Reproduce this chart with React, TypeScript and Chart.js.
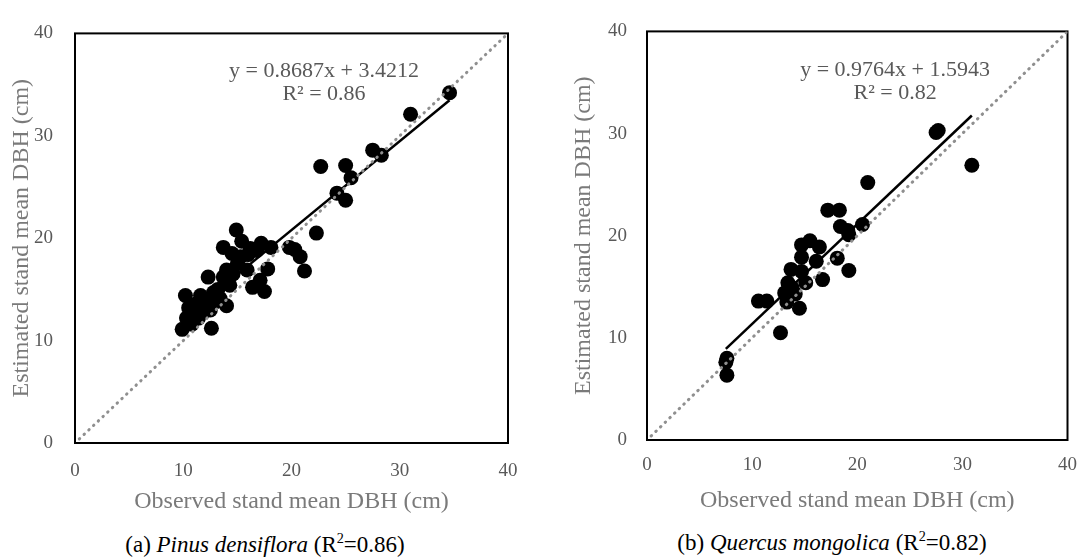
import React, { useEffect, useRef } from "react";
import { Chart, registerables } from "chart.js";

Chart.register(...registerables);

// ---------- data ----------
const pinusObserved = [
  9.9, 10.2, 10.3, 10.5, 10.8, 10.8, 11.0, 11.2, 11.4, 11.6, 11.8, 11.9, 12.2, 12.3, 12.5,
  12.6, 12.8, 13.0, 13.2, 13.4, 13.7, 14.0, 14.0, 14.3, 14.6, 13.7, 14.5, 14.9, 15.0, 15.3,
  15.4, 15.9, 16.0, 16.2, 16.4, 16.8, 17.1, 17.2, 17.5, 17.8, 18.1, 19.8, 20.3, 20.8, 21.2,
  22.3, 22.7, 24.2, 25.0, 25.0, 25.5, 27.5, 28.3, 31.0, 34.6,
];
const pinusEstimated = [
  11.1, 14.4, 12.2, 13.2, 12.8, 11.6, 12.5, 13.6, 12.2, 14.4, 13.5, 12.8, 14.0, 16.2, 13.0,
  11.2, 14.7, 13.8, 15.0, 14.1, 16.2, 13.4, 16.9, 15.4, 16.5, 19.1, 18.5, 20.8, 17.5, 18.2,
  19.7, 16.9, 18.4, 19.0, 15.2, 18.8, 15.9, 19.5, 14.8, 17.0, 19.1, 19.1, 18.9, 18.2, 16.8,
  20.5, 27.0, 24.4, 23.7, 27.1, 25.9, 28.6, 28.1, 32.1, 34.2,
];
const quercusObserved = [
  7.5, 7.6, 7.6, 10.6, 11.4, 12.7, 13.3, 13.1, 14.1, 14.5, 13.4, 13.8, 15.1, 13.7, 14.7,
  16.7, 14.7, 16.1, 14.7, 15.5, 16.4, 17.2, 18.3, 18.1, 19.2, 18.4, 19.1, 19.2, 20.5, 21.0,
  27.5, 27.7, 30.9,
];
const quercusEstimated = [
  7.6, 8.0, 6.35, 13.6, 13.6, 10.5, 13.5, 14.4, 14.3, 12.9, 15.4, 14.9, 15.4, 16.7, 16.5,
  15.7, 17.9, 17.5, 19.1, 19.5, 18.9, 22.5, 22.5, 17.8, 16.6, 20.9, 20.5, 20.1, 21.1, 25.2,
  30.1, 30.3, 26.9,
];

const pinusSlope = 0.8687;
const pinusIntercept = 3.4212;
const pinusR2 = "0.86";
const quercusSlope = 0.9764;
const quercusIntercept = 1.5943;
const quercusR2 = "0.82";

const axisTicks = [0, 10, 20, 30, 40];
const oneToOne = [0.4, 40];
const xTitleText = "Observed stand mean DBH (cm)";
const yTitleText = "Estimated stand mean DBH (cm)";

// ---------- helpers ----------
const SERIF = '"Liberation Serif", "Times New Roman", serif';

const boxPlugin = {
  id: "plotBox",
  beforeDatasetsDraw(chart: any) {
    const { ctx, chartArea: a } = chart;
    ctx.save();
    ctx.strokeStyle = "#000";
    ctx.lineWidth = 2;
    ctx.strokeRect(a.left, a.top, a.right - a.left, a.bottom - a.top);
    ctx.restore();
  },
};

const eqPlugin = {
  id: "eqLabel",
  afterDatasetsDraw(chart: any, _args: any, opts: any) {
    if (!opts || !opts.lines) return;
    const { ctx } = chart;
    const xs = chart.scales.x;
    const ys = chart.scales.y;
    ctx.save();
    ctx.fillStyle = "#595959";
    ctx.font = `22px ${SERIF}`;
    ctx.textAlign = "center";
    ctx.textBaseline = "middle";
    for (const l of opts.lines) {
      ctx.fillText(l.text, xs.getPixelForValue(l.x), ys.getPixelForValue(l.y));
    }
    ctx.restore();
  },
};

type Cfg = {
  obs: number[];
  est: number[];
  slope: number;
  intercept: number;
  r2: string;
  eqX: number;
  eqY: number;
  r2Y: number;
  padRight: number;
  padTop: number;
  yAxisWidth: number;
  xAxisHeight: number;
  yTitlePad: number;
  yTickPad: number;
  xTickPad: number;
  xTitlePad: number;
};

function makeConfig(c: Cfg): any {
  const pts = c.obs.map((x, i) => ({ x, y: c.est[i] }));
  const xmin = Math.min(...c.obs);
  const xmax = Math.max(...c.obs);
  const fit = [xmin, xmax].map((x) => ({ x, y: c.slope * x + c.intercept }));
  const diag = oneToOne.map((v) => ({ x: v, y: v }));
  const sign = c.intercept >= 0 ? "+" : "−";
  return {
    type: "scatter",
    data: {
      datasets: [
        {
          label: "1:1",
          data: diag,
          showLine: true,
          borderColor: "#8f8f8f",
          borderWidth: 3,
          borderDash: [0.5, 6],
          borderCapStyle: "round",
          pointRadius: 0,
          order: 1,
        },
        {
          label: "fit",
          data: fit,
          showLine: true,
          borderColor: "#000",
          borderWidth: 2.5,
          pointRadius: 0,
          order: 2,
        },
        {
          label: "points",
          data: pts,
          backgroundColor: "#000",
          borderColor: "#000",
          pointRadius: 7.5,
          pointBorderWidth: 0,
          order: 3,
        },
      ],
    },
    options: {
      responsive: false,
      animation: false,
      events: [],
      layout: { padding: { left: 0, right: c.padRight, top: c.padTop, bottom: 0 } },
      plugins: {
        legend: { display: false },
        tooltip: { enabled: false },
        eqLabel: {
          lines: [
            { text: `y = ${c.slope}x ${sign} ${Math.abs(c.intercept)}`, x: c.eqX, y: c.eqY },
            { text: `R² = ${c.r2}`, x: c.eqX, y: c.r2Y },
          ],
        },
      },
      scales: {
        x: {
          type: "linear",
          min: 0,
          max: 40,
          afterBuildTicks: (s: any) => {
            s.ticks = axisTicks.map((v) => ({ value: v }));
          },
          afterFit: (s: any) => {
            s.height = c.xAxisHeight;
          },
          grid: { display: false, drawTicks: false },
          border: { display: false },
          ticks: {
            padding: c.xTickPad,
            color: "#595959",
            font: { family: SERIF, size: 19 },
          },
          title: {
            display: true,
            text: xTitleText,
            color: "#7a7a7a",
            font: { family: SERIF, size: 24 },
            padding: { top: 0, bottom: c.xTitlePad },
          },
        },
        y: {
          type: "linear",
          min: 0,
          max: 40,
          afterBuildTicks: (s: any) => {
            s.ticks = axisTicks.map((v) => ({ value: v }));
          },
          afterFit: (s: any) => {
            s.width = c.yAxisWidth;
          },
          grid: { display: false, drawTicks: false },
          border: { display: false },
          ticks: {
            padding: c.yTickPad,
            color: "#595959",
            font: { family: SERIF, size: 19 },
          },
          title: {
            display: true,
            text: yTitleText,
            color: "#7a7a7a",
            font: { family: SERIF, size: 24 },
            padding: { top: c.yTitlePad, bottom: 0 },
          },
        },
      },
    },
    plugins: [boxPlugin, eqPlugin],
  };
}

function ScatterPanel({ cfg, left, width }: { cfg: Cfg; left: number; width: number }) {
  const ref = useRef<HTMLCanvasElement | null>(null);
  useEffect(() => {
    if (!ref.current) return;
    const chart = new Chart(ref.current, makeConfig(cfg));
    return () => chart.destroy();
  }, []);
  return (
    <canvas
      ref={ref}
      width={width}
      height={520}
      style={{ position: "absolute", left, top: 0, width, height: 520 }}
    />
  );
}

const pinusCfg: Cfg = {
  obs: pinusObserved,
  est: pinusEstimated,
  slope: pinusSlope,
  intercept: pinusIntercept,
  r2: pinusR2,
  eqX: 23.0,
  eqY: 36.3,
  r2Y: 34.1,
  padRight: 37,
  padTop: 15,
  yAxisWidth: 75,
  xAxisHeight: 77,
  yTitlePad: 7,
  yTickPad: 22,
  xTickPad: 17,
  xTitlePad: 4,
};

const quercusCfg: Cfg = {
  obs: quercusObserved,
  est: quercusEstimated,
  slope: quercusSlope,
  intercept: quercusIntercept,
  r2: quercusR2,
  eqX: 23.6,
  eqY: 36.2,
  r2Y: 33.9,
  padRight: 18,
  padTop: 20,
  yAxisWidth: 102,
  xAxisHeight: 80,
  yTitlePad: 24,
  yTickPad: 20,
  xTickPad: 14,
  xTitlePad: 5,
};

const captionStyle: React.CSSProperties = {
  position: "absolute",
  width: 360,
  textAlign: "center",
  font: `23px ${SERIF}`,
  lineHeight: "26px",
  color: "#000",
  whiteSpace: "nowrap",
};
const supStyle: React.CSSProperties = { fontSize: "0.62em", verticalAlign: "super", lineHeight: 0 };

export default function App() {
  return (
    <div
      style={{
        position: "absolute",
        left: 0,
        top: 0,
        width: 1091,
        height: 558,
        background: "#fff",
        overflow: "hidden",
      }}
    >
      <ScatterPanel cfg={pinusCfg} left={0} width={545} />
      <ScatterPanel cfg={quercusCfg} left={545} width={546} />
      <div style={{ ...captionStyle, left: 85, top: 532 }}>
        (a) <i>Pinus densiflora</i> (R<sup style={supStyle}>2</sup>=0.86)
      </div>
      <div style={{ ...captionStyle, left: 652, top: 530 }}>
        (b) <i>Quercus mongolica</i> (R<sup style={supStyle}>2</sup>=0.82)
      </div>
    </div>
  );
}
